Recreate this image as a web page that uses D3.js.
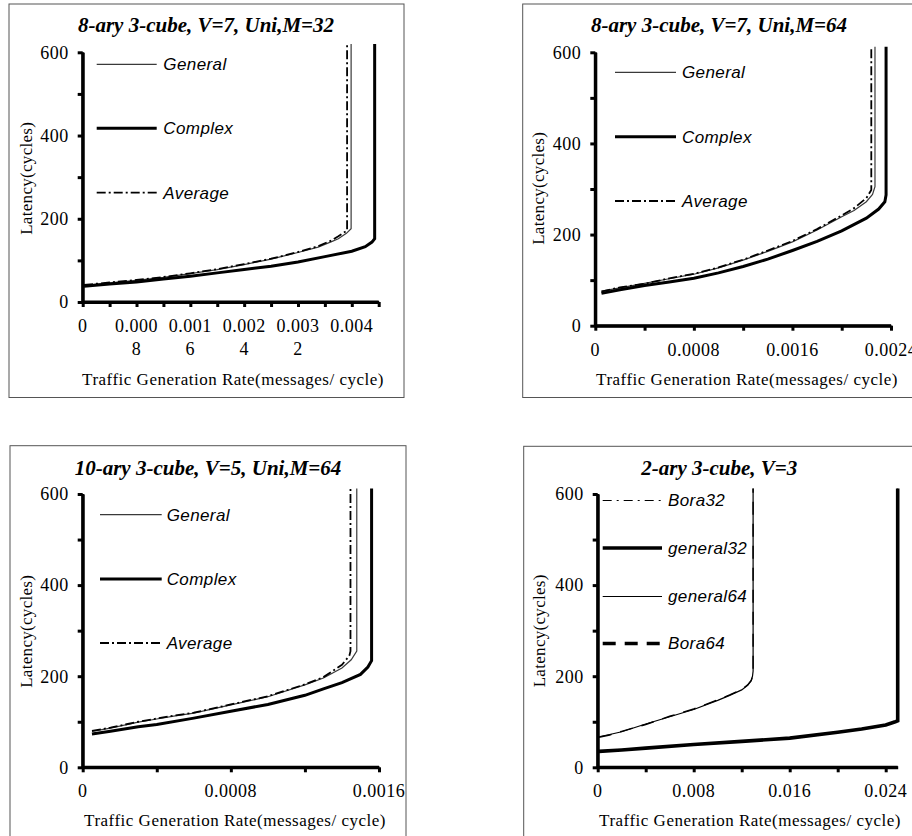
<!DOCTYPE html>
<html>
<head>
<meta charset="utf-8">
<script src="https://cdn.jsdelivr.net/npm/d3@7"></script>
<style>
body { margin: 0; background: #fff; }
svg { display: block; }
</style>
</head>
<body>
<svg id="chart" width="912" height="836"></svg>
<script>
// ---------- data ----------
var yTicks = [0, 100, 200, 300, 400, 500, 600];
var yTickLabels = ["0", "200", "400", "600"];

// panel 1: 8-ary 3-cube, V=7, Uni,M=32
var p1Title = "8-ary 3-cube, V=7, Uni,M=32";
var p1XTicks = [0, 0.0004, 0.0008, 0.0012, 0.0016, 0.002, 0.0024, 0.0028, 0.0032, 0.0036, 0.004, 0.0044];
var p1XLabels = ["0", "0.0008", "0.0016", "0.0024", "0.0032", "0.004"];
var p1GeneralX = [0.00002, 0.0004, 0.0008, 0.0012, 0.0016, 0.002, 0.0024, 0.0028, 0.0032, 0.0035, 0.0037, 0.0038, 0.00392, 0.00399, 0.00399];
var p1GeneralY = [40, 46, 52, 59, 68, 78, 90, 103, 119, 132, 145, 152, 165, 176, 620];
var p1ComplexX = [0.00002, 0.0004, 0.0008, 0.0012, 0.0016, 0.002, 0.0024, 0.0028, 0.0032, 0.0036, 0.004, 0.0042, 0.0043, 0.00434, 0.00434];
var p1ComplexY = [38, 43, 48, 55, 62, 70, 78, 86, 96, 109, 122, 133, 144, 152, 620];
var p1AverageX = [0.00002, 0.0004, 0.0008, 0.0012, 0.0016, 0.002, 0.0024, 0.0028, 0.0032, 0.0035, 0.0037, 0.0038, 0.00393, 0.00393];
var p1AverageY = [41, 47, 53, 60, 69, 79, 91, 104, 120, 134, 148, 158, 172, 620];

// panel 2: 8-ary 3-cube, V=7, Uni,M=64
var p2Title = "8-ary 3-cube, V=7, Uni,M=64";
var p2XTicks = [0, 0.0004, 0.0008, 0.0012, 0.0016, 0.002, 0.0024];
var p2XLabels = ["0", "0.0008", "0.0016", "0.0024"];
var p2GeneralX = [0.00005, 0.0002, 0.0004, 0.0006, 0.0008, 0.001, 0.0012, 0.0014, 0.0016, 0.0018, 0.002, 0.0021, 0.0022, 0.00225, 0.00227, 0.00227];
var p2GeneralY = [76, 83, 93, 103, 113, 127, 144, 163, 184, 210, 239, 253, 272, 288, 305, 612];
var p2ComplexX = [0.00005, 0.0002, 0.0004, 0.0006, 0.0008, 0.001, 0.0012, 0.0014, 0.0016, 0.0018, 0.002, 0.0022, 0.0023, 0.00235, 0.00236, 0.00236];
var p2ComplexY = [71, 79, 88, 96, 104, 116, 130, 146, 165, 185, 208, 236, 256, 272, 287, 612];
var p2AverageX = [0.00005, 0.0002, 0.0004, 0.0006, 0.0008, 0.001, 0.0012, 0.0014, 0.0016, 0.0018, 0.002, 0.0021, 0.0022, 0.00224, 0.00224];
var p2AverageY = [75, 84, 92, 104, 114, 128, 145, 165, 186, 212, 242, 258, 280, 298, 612];

// panel 3: 10-ary 3-cube, V=5, Uni,M=64
var p3Title = "10-ary 3-cube, V=5, Uni,M=64";
var p3XTicks = [0, 0.0004, 0.0008, 0.0012, 0.0016];
var p3XLabels = ["0", "0.0008", "0.0016"];
var p3GeneralX = [0.00005, 0.00015, 0.0003, 0.0004, 0.0005, 0.0006, 0.0008, 0.001, 0.0012, 0.0013, 0.0014, 0.00145, 0.00148, 0.00148];
var p3GeneralY = [79, 86, 99, 106, 113, 119, 137, 155, 181, 196, 218, 236, 255, 612];
var p3ComplexX = [0.00005, 0.00015, 0.0003, 0.0004, 0.0006, 0.0008, 0.001, 0.0012, 0.0013, 0.0014, 0.0015, 0.00154, 0.00156, 0.00156];
var p3ComplexY = [73, 79, 89, 94, 108, 123, 138, 158, 172, 186, 204, 220, 234, 612];
var p3AverageX = [0.00005, 0.00015, 0.0003, 0.0004, 0.0005, 0.0006, 0.0008, 0.001, 0.0012, 0.0013, 0.0014, 0.00144, 0.001446, 0.001446];
var p3AverageY = [80, 87, 100, 107, 114, 120, 138, 156, 182, 198, 225, 245, 255, 612];

// panel 4: 2-ary 3-cube, V=3
var p4Title = "2-ary 3-cube, V=3";
var p4XTicks = [0, 0.004, 0.008, 0.012, 0.016, 0.02, 0.024];
var p4XLabels = ["0", "0.008", "0.016", "0.024"];
var p4Bora32X = [0.0001, 0.002, 0.004, 0.008, 0.012, 0.016, 0.02, 0.022, 0.024, 0.0248, 0.025, 0.025];
var p4Bora32Y = [36, 39, 43, 51, 58, 65, 78, 85, 94, 101, 103, 612];
var p4General32X = [0.0001, 0.002, 0.004, 0.008, 0.012, 0.016, 0.02, 0.022, 0.024, 0.0248, 0.025, 0.025];
var p4General32Y = [35, 38, 42, 50, 57, 64, 77, 84, 93, 100, 102, 612];
var p4General64X = [0.0001, 0.001, 0.002, 0.004, 0.006, 0.008, 0.01, 0.011, 0.012, 0.0125, 0.0128, 0.0129, 0.01295, 0.01295];
var p4General64Y = [67, 72, 78, 95, 111, 127, 147, 158, 170, 180, 190, 200, 211, 612];
var p4Bora64X = [0.0001, 0.001, 0.002, 0.004, 0.006, 0.008, 0.01, 0.011, 0.012, 0.0125, 0.0128, 0.0129, 0.01295, 0.01295];
var p4Bora64Y = [66, 71, 79, 94, 112, 128, 148, 159, 171, 181, 191, 201, 211, 612];

// ---------- line styles (legend key, and the curve itself where it differs) ----------
var styles = {
    General:   {w: 1.2, color: "#3a3a3a", dash: null},
    Complex:   {w: 3,   color: "#000",    dash: null},
    Average:   {w: 1.8, color: "#000",    dash: "9,3,2,3"},
    Bora32:    {w: 1,   color: "#000",    dash: "9,5,2,5"},
    general32: {w: 3.6, color: "#000",    dash: null},
    general64: {w: 1.2, color: "#000",    dash: null},
    Bora64:    {w: 3.5, color: "#000",    dash: "13,9", curveW: 1.4}
};

// ---------- panel layout ----------
var panels = [
    {title: p1Title, xTicks: p1XTicks, xLabels: p1XLabels, xMax: 0.0044,
     series: [["General", p1GeneralX, p1GeneralY], ["Average", p1AverageX, p1AverageY], ["Complex", p1ComplexX, p1ComplexY]],
     legend: ["General", "Complex", "Average"],
     box: [9, 4, 395, 393.5], plot: [82.7, 52.3, 378.7, 302], titlePos: [206, 31.5], yTitle: [31.5, 178.3], xTitle: [233, 385],
     leg: {x1: 96.7, x2: 156.7, tx: 163.3, ys: [64.3, 128.3, 192.7]}},
    {title: p2Title, xTicks: p2XTicks, xLabels: p2XLabels, xMax: 0.0024,
     series: [["General", p2GeneralX, p2GeneralY], ["Average", p2AverageX, p2AverageY], ["Complex", p2ComplexX, p2ComplexY]],
     legend: ["General", "Complex", "Average"],
     box: [522.7, 4, 420, 393.5], plot: [595.3, 52.3, 891, 325.7], titlePos: [719, 31.5], yTitle: [544.3, 188.3], xTitle: [747, 385],
     leg: {x1: 615, x2: 676, tx: 682, ys: [72.3, 136.7, 201]}},
    {title: p3Title, xTicks: p3XTicks, xLabels: p3XLabels, xMax: 0.0016,
     series: [["General", p3GeneralX, p3GeneralY], ["Average", p3AverageX, p3AverageY], ["Complex", p3ComplexX, p3ComplexY]],
     legend: ["General", "Complex", "Average"],
     box: [10, 445.7, 396, 420], plot: [82.7, 494, 379, 767.3], titlePos: [208, 474.5], yTitle: [32.3, 631.3], xTitle: [235, 826.3],
     leg: {x1: 100, x2: 161.7, tx: 166.7, ys: [514.7, 579, 643]}},
    {title: p4Title, xTicks: p4XTicks, xLabels: p4XLabels, xMax: 0.025,
     series: [["Bora64", p4Bora64X, p4Bora64Y], ["general64", p4General64X, p4General64Y], ["general32", p4General32X, p4General32Y], ["Bora32", p4Bora32X, p4Bora32Y]],
     legend: ["Bora32", "general32", "general64", "Bora64"],
     box: [523.7, 446.3, 420, 420], plot: [597.7, 494, 897.7, 767.3], titlePos: [719.3, 474.5], yTitle: [545.3, 630.8], xTitle: [750, 826.3],
     leg: {x1: 602.7, x2: 662, tx: 668, ys: [500.5, 548, 596.5, 643.5]}}
];

var svg = d3.select("#chart");
var serif = "Liberation Serif";
var sans = "Liberation Sans";

function applyStyle(sel, name, onCurve) {
    var s = styles[name];
    sel.attr("fill", "none")
        .attr("stroke", s.color)
        .attr("stroke-width", onCurve && s.curveW ? s.curveW : s.w)
        .attr("stroke-dasharray", s.dash);
}

function drawPanel(p) {
    svg.append("rect")
        .attr("x", p.box[0]).attr("y", p.box[1])
        .attr("width", p.box[2]).attr("height", p.box[3])
        .attr("fill", "none").attr("stroke", "#555").attr("stroke-width", 1);

    var x = d3.scaleLinear().domain([0, p.xMax]).range([p.plot[0], p.plot[2]]);
    var y = d3.scaleLinear().domain([0, 600]).range([p.plot[3], p.plot[1]]);

    var curve = d3.line()
        .x(function (d) { return x(d[0]); })
        .y(function (d) { return y(d[1]); });

    // axes first: the L-shaped frame goes through the same line generator as the data
    svg.append("path").datum([[0, 600], [0, 0], [p.xMax, 0]]).attr("d", curve)
        .attr("fill", "none").attr("stroke", "#000").attr("stroke-width", 3)
        .attr("stroke-linejoin", "miter");

    var blank = function () { return ""; };
    var ya = svg.append("g").attr("transform", "translate(" + x(0) + ",0)")
        .call(d3.axisLeft(y).tickValues(yTicks).tickSize(5).tickSizeOuter(0).tickFormat(blank));
    ya.selectAll("line").style("stroke", "#000").style("stroke-width", "3px");
    ya.select(".domain").style("stroke", "#000").style("stroke-width", "3px");

    var xa = svg.append("g").attr("transform", "translate(0," + y(0) + ")")
        .call(d3.axisBottom(x).tickValues(p.xTicks).tickSize(5).tickSizeOuter(0).tickFormat(blank));
    xa.selectAll("line").style("stroke", "#000").style("stroke-width", "3px");
    xa.select(".domain").style("stroke", "#000").style("stroke-width", "3px");

    // series
    p.series.forEach(function (s) {
        var pts = s[1].map(function (v, i) { return [v, s[2][i]]; });
        svg.append("path").datum(pts).attr("d", curve).call(applyStyle, s[0], true);
    });

    yTickLabels.forEach(function (d) {
        svg.append("text")
            .attr("x", x(0) - 14)
            .attr("y", y(+d))
            .attr("dy", "0.35em")
            .attr("text-anchor", "end")
            .attr("font-family", serif).attr("font-size", 18).attr("letter-spacing", 0.5)
            .text(d);
    });

    // x tick labels, wrapped the way the source wraps long numbers
    var narrow = (p.plot[2] - p.plot[0]) / p.xLabels.length < 55;
    p.xLabels.forEach(function (lab) {
        var parts = narrow && lab.length > 5 ? [lab.slice(0, 5), lab.slice(5)] : [lab];
        parts.forEach(function (s, i) {
            svg.append("text")
                .attr("x", x(+lab))
                .attr("y", y(0) + 30 + i * 23)
                .attr("text-anchor", "middle")
                .attr("font-family", serif).attr("font-size", 18).attr("letter-spacing", 0.5)
                .text(s);
        });
    });

    // titles
    svg.append("text")
        .attr("x", p.titlePos[0]).attr("y", p.titlePos[1])
        .attr("text-anchor", "middle")
        .attr("font-family", serif).attr("font-size", 21)
        .attr("font-weight", "bold").attr("font-style", "italic")
        .text(p.title);

    svg.append("text")
        .attr("transform", "translate(" + p.yTitle[0] + "," + p.yTitle[1] + ") rotate(-90)")
        .attr("text-anchor", "middle")
        .attr("font-family", serif).attr("font-size", 17).attr("letter-spacing", 0.3)
        .text("Latency(cycles)");

    svg.append("text")
        .attr("x", p.xTitle[0]).attr("y", p.xTitle[1])
        .attr("text-anchor", "middle")
        .attr("font-family", serif).attr("font-size", 17).attr("letter-spacing", 0.5)
        .text("Traffic Generation Rate(messages/ cycle)");

    // legend
    p.legend.forEach(function (name, i) {
        var ly = p.leg.ys[i];
        svg.append("line")
            .attr("x1", p.leg.x1).attr("x2", p.leg.x2)
            .attr("y1", ly).attr("y2", ly)
            .call(applyStyle, name, false);
        svg.append("text")
            .attr("x", p.leg.tx).attr("y", ly)
            .attr("dy", "0.35em")
            .attr("font-family", sans).attr("font-size", 17)
            .attr("font-style", "italic").attr("letter-spacing", 0.4)
            .text(name);
    });
}

panels.forEach(drawPanel);
</script>
</body>
</html>
